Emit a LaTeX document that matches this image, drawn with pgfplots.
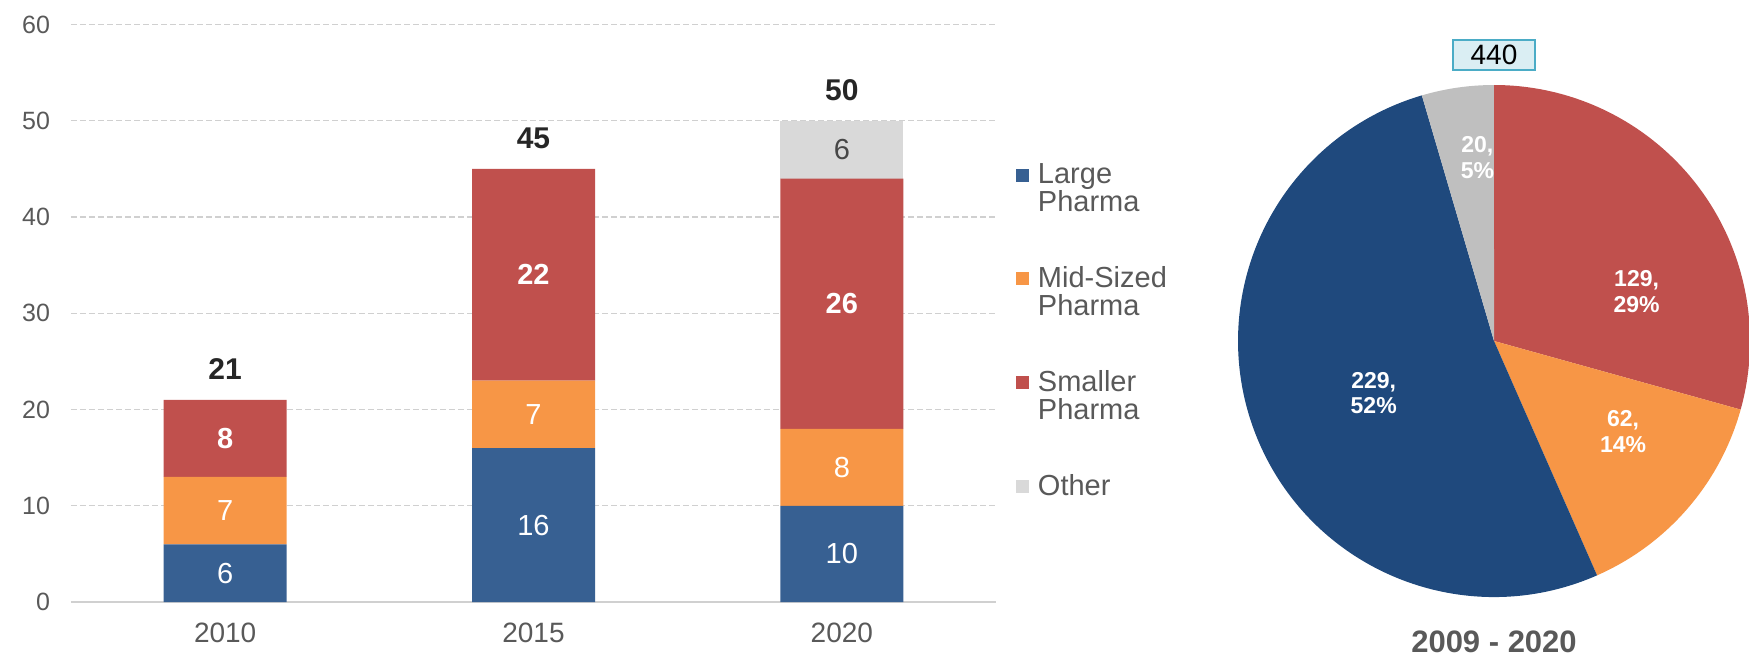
\documentclass[border=0pt]{standalone}
\usepackage{pgfplots}
\pgfplotsset{compat=1.18}
\usepackage{pgfplotstable}
\usepackage{fontspec}
\setmainfont{Liberation Sans}

\definecolor{barBlue}{HTML}{376092}
\definecolor{pieBlue}{HTML}{1F497D}
\definecolor{accOrange}{HTML}{F79646}
\definecolor{accRed}{HTML}{C0504D}
\definecolor{otherGray}{HTML}{D9D9D9}
\definecolor{pieGray}{HTML}{BFBFBF}
\definecolor{tickGray}{HTML}{595959}
\definecolor{labelDark}{HTML}{262626}
\definecolor{gridGray}{HTML}{D0D0D0}
\definecolor{boxFill}{HTML}{DAEEF3}
\definecolor{boxLine}{HTML}{4BACC6}

% deals per year, split by size of the acquirer
\pgfplotstableread{
x year large mid small other total
0 2010 6  7 8  0 21
1 2015 16 7 22 0 45
2 2020 10 8 26 6 50
}\dealtable

% cumulative deals 2009-2020, clockwise from the top
\pgfplotstableread{
seg value color
Smaller 129 accRed
Mid 62 accOrange
Large 229 pieBlue
Other 20 pieGray
}\pietable

\newcommand{\lblfont}{\fontsize{14}{14}\selectfont}
\newcommand{\segfont}{\fontsize{14.5}{14.5}\selectfont}

% value label in the middle of its stacked segment; empty segments stay unlabelled
\pgfplotsset{
  segment label/.style={
    nodes near coords={\ifdim\segval pt>0pt \pgfmathprintnumber{\segval}\fi},
    every node near coord/.style={anchor=south, inner sep=0pt,
      text height=10.4pt, text depth=0pt, #1, yshift=-5.2pt}
  }
}
\tikzset{total label/.style={anchor=center, inner sep=0pt,
  font=\fontsize{15}{15}\selectfont\bfseries, text=labelDark, yshift=15.5pt}}

\begin{document}
\begin{tikzpicture}
\path[use as bounding box] (0,0) rectangle (874.5pt,330pt);

\begin{axis}[
  at={(35.5pt,29pt)}, anchor=south west, scale only axis,
  width=462.5pt, height=288.75pt,
  ybar stacked, bar width=61.5pt,
  xmin=-0.5, xmax=2.5, ymin=0, ymax=60,
  xtick={0,1,2}, xticklabels={2010,2015,2020},
  ytick={0,10,...,60},
  ymajorgrids,
  grid style={gridGray, dash pattern=on 3pt off 1.5pt, line width=0.7pt},
  axis x line*=bottom, axis y line*=left,
  x axis line style={gridGray, line width=1.2pt, -},
  y axis line style={draw=none},
  major tick length=0pt,
  tick label style={text=tickGray},
  yticklabel style={font=\fontsize{12.5}{12.5}\selectfont, xshift=-7pt},
  xticklabel style={font=\lblfont, yshift=-7pt},
  /pgf/number format/assume math mode=true,
  clip=false,
  legend cell align=left,
  legend style={at={(rel axis cs:1.0216,0.766)}, anchor=north west,
    draw=none, fill=none, inner sep=0pt, outer sep=0pt,
    row sep=21.9pt, column sep=2.5pt,
    font=\fontsize{14.5}{14}\selectfont, text=tickGray,
    cells={align=left, inner sep=0pt}},
]
\addplot[fill=barBlue, draw=none,
  legend image code/.code={\fill[barBlue] (0pt,3.75pt) rectangle (6.5pt,10.25pt);},
  visualization depends on={\thisrow{large} \as \segval},
  segment label={text=white, font=\segfont}]
  table[x=x, y=large] {\dealtable};
\addlegendentry{Large\\Pharma}
\addplot[fill=accOrange, draw=none,
  legend image code/.code={\fill[accOrange] (0pt,3.75pt) rectangle (6.5pt,10.25pt);},
  visualization depends on={\thisrow{mid} \as \segval},
  segment label={text=white, font=\segfont}]
  table[x=x, y=mid] {\dealtable};
\addlegendentry{Mid-Sized\\Pharma}
\addplot[fill=accRed, draw=none,
  legend image code/.code={\fill[accRed] (0pt,3.75pt) rectangle (6.5pt,10.25pt);},
  visualization depends on={\thisrow{small} \as \segval},
  segment label={text=white, font=\segfont\bfseries}]
  table[x=x, y=small] {\dealtable};
\addlegendentry{Smaller\\Pharma}
\addplot[fill=otherGray, draw=none,
  legend image code/.code={\fill[otherGray] (0pt,3.75pt) rectangle (6.5pt,10.25pt);},
  visualization depends on={\thisrow{other} \as \segval},
  segment label={text=labelDark!85, font=\segfont}]
  table[x=x, y=other] {\dealtable};
\addlegendentry{Other\\\phantom{P}}
% totals above each stack
\pgfplotsforeachungrouped \i in {0,1,2}{%
  \pgfplotstablegetelem{\i}{x}\of\dealtable \let\bx\pgfplotsretval
  \pgfplotstablegetelem{\i}{total}\of\dealtable \let\btot\pgfplotsretval
  \edef\drawtotal{\noexpand\node[total label] at (axis cs:\bx,\btot) {\btot};}%
  \drawtotal
}
\end{axis}

\begin{axis}[
  at={(747pt,159.5pt)}, anchor=origin,
  x=128pt, y=128pt, xmin=-1, xmax=1, ymin=-1, ymax=1,
  hide axis, clip=false,
]
  \xdef\pietotal{0}
  \pgfplotsforeachungrouped \i in {0,...,3}{%
    \pgfplotstablegetelem{\i}{value}\of\pietable
    \pgfmathparse{\pietotal+\pgfplotsretval}%
    \xdef\pietotal{\pgfmathresult}%
  }
  \xdef\pieangle{90}
  \pgfplotsforeachungrouped \i in {0,...,3}{%
    \pgfplotstablegetelem{\i}{value}\of\pietable
    \let\segvalue\pgfplotsretval
    \pgfplotstablegetelem{\i}{color}\of\pietable
    \let\segcolor\pgfplotsretval
    \pgfmathparse{\pieangle-\segvalue/\pietotal*360}%
    \let\segend\pgfmathresult
    \edef\drawsegment{\noexpand\fill[\segcolor] (axis cs:0,0) --
      ([shift={(\pieangle:128pt)}]axis cs:0,0)
      arc[start angle=\pieangle, end angle=\segend, radius=128pt] -- cycle;}%
    \drawsegment
    \xdef\pieangle{\segend}%
  }
  \begin{scope}[every node/.style={text=white, font=\fontsize{11.5}{12.8}\selectfont\bfseries, align=center}]
    \node at (axis cs:0.557,0.193) {129,\\29\%};
    \node at (axis cs:0.504,-0.354) {62,\\14\%};
    \node at (axis cs:-0.47,-0.204) {229,\\52\%};
    \node at (axis cs:-0.065,0.717) {20,\\5\%};
  \end{scope}
  \node[draw=boxLine, fill=boxFill, line width=1pt, minimum width=41pt, minimum height=15pt,
    inner sep=0pt, font=\lblfont, text=black] at (axis cs:0,1.117) {440};
  \node[font=\fontsize{15.5}{18}\selectfont\bfseries, text=tickGray] at (axis cs:0,-1.176) {2009 - 2020};
\end{axis}
\end{tikzpicture}
\end{document}
